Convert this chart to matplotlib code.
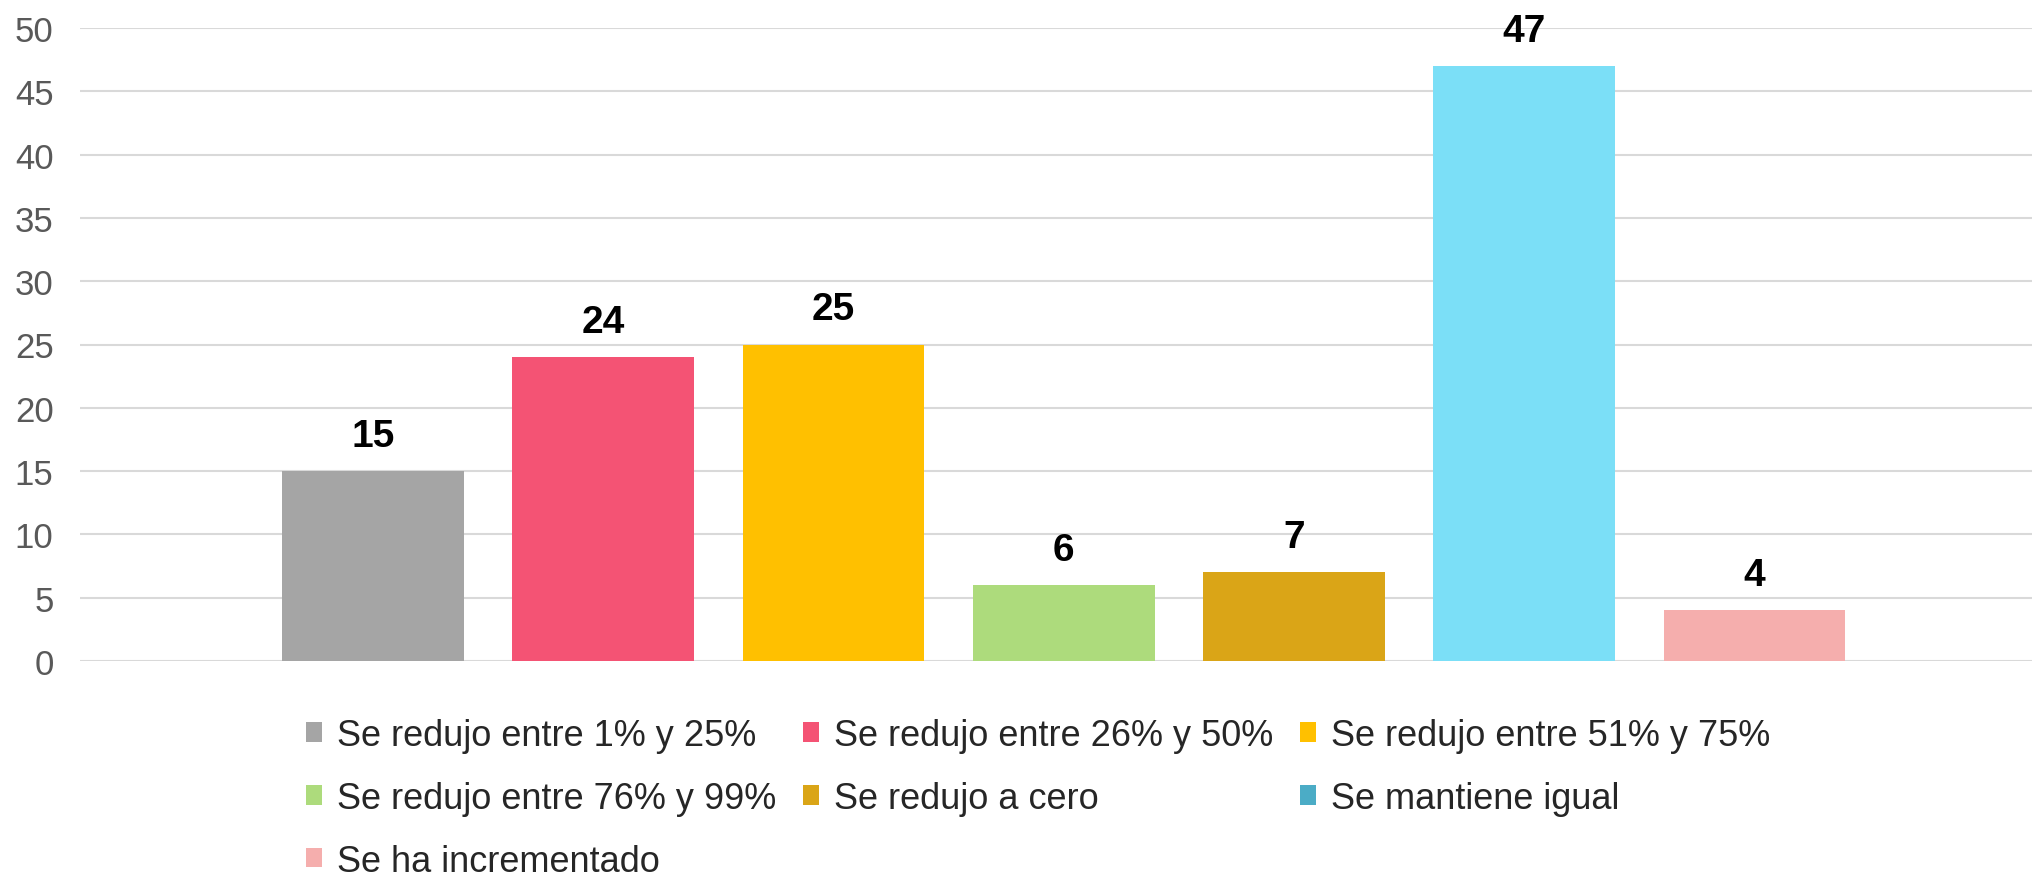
import matplotlib
matplotlib.use('Agg')
import matplotlib.pyplot as plt
from matplotlib.patches import Patch

plt.rcParams['font.family'] = ['Liberation Sans', 'DejaVu Sans']

categories = [
    "Se redujo entre 1% y 25%",
    "Se redujo entre 26% y 50%",
    "Se redujo entre 51% y 75%",
    "Se redujo entre 76% y 99%",
    "Se redujo a cero",
    "Se mantiene igual",
    "Se ha incrementado",
]
values = [15, 24, 25, 6, 7, 47, 4]
bar_colors = ['#A5A5A5', '#F45374', '#FFC000', '#ADDB7C', '#DAA517', '#7BDFF7', '#F5AEAD']
legend_colors = ['#A5A5A5', '#F45374', '#FFC000', '#ADDB7C', '#DAA517', '#4BACC6', '#F5AEAD']
yticks = list(range(0, 51, 5))

W, H = 2033, 878
fig = plt.figure(figsize=(W / 100, H / 100), dpi=100)
ax = fig.add_axes([80 / W, 1 - 662 / H, 1 - 80 / W, (662 - 29) / H])

x = list(range(len(values)))
ax.bar(x, values, width=0.79, color=bar_colors, zorder=2)
ax.set_xlim(-1.2725, 7.2095)
ax.set_ylim(0, 50)
ax.set_yticks(yticks)
ax.yaxis.grid(True, color='#D9D9D9', linewidth=1.5)
ax.set_axisbelow(True)
for s in ax.spines.values():
    s.set_visible(False)
ax.tick_params(axis='y', length=0, pad=19, labelsize=25, labelcolor='#595959')
ax.tick_params(axis='x', bottom=False, labelbottom=False)

for xi, v in zip(x, values):
    ax.annotate(str(v), (xi, v), xytext=(0, 18), textcoords='offset points',
                ha='center', va='baseline', fontsize=28, fontweight='bold',
                color='black', annotation_clip=False)

handles = [Patch(facecolor=c, edgecolor='none', label=l) for c, l in zip(legend_colors, categories)]
order = [0, 3, 6, 1, 4, 2, 5]
leg = fig.legend([handles[i] for i in order], [categories[i] for i in order],
                 ncol=3, loc='upper left', bbox_to_anchor=(306 / W, 1 - 719 / H),
                 frameon=False, fontsize=26, handlelength=0.45, handleheight=0.45,
                 handletextpad=0.4, columnspacing=0.75, labelspacing=0.77,
                 borderpad=0, borderaxespad=0)
for t in leg.get_texts():
    t.set_color('#262626')

fig.savefig('out.png', dpi=100, facecolor='white')
